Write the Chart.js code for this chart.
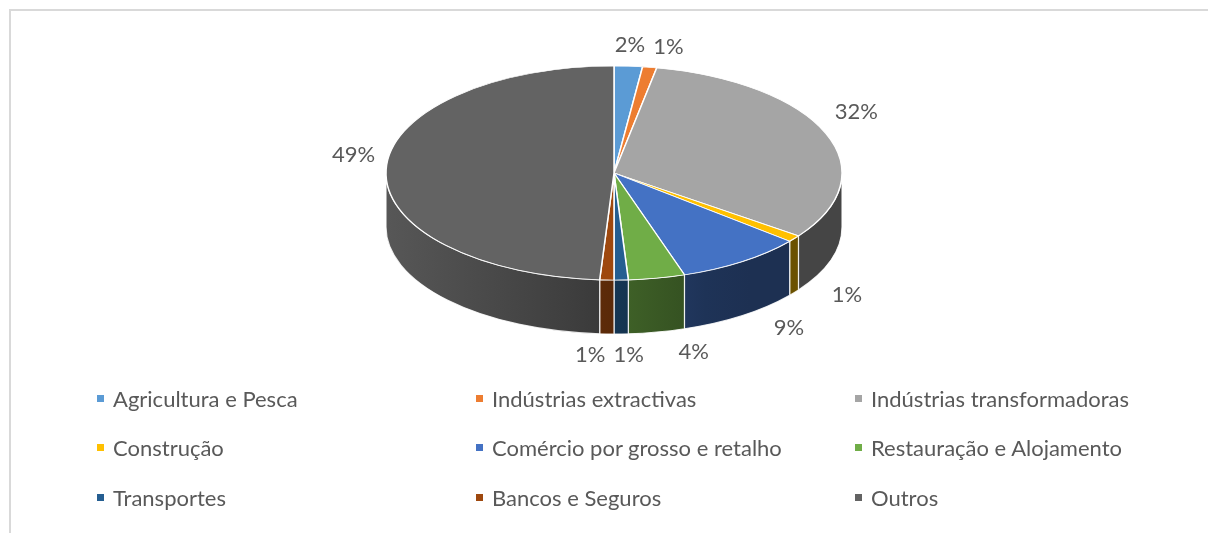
<!DOCTYPE html>
<html>
<head>
<meta charset="utf-8">
<script src="https://cdn.jsdelivr.net/npm/chart.js@4.4.0/dist/chart.umd.min.js"></script>
<style>
    html, body { margin: 0; padding: 0; background: #fff; overflow: hidden; }
    #wrap { position: relative; width: 1208px; height: 533px; overflow: hidden; }
    #frame { position: absolute; left: 9px; top: 9px; width: 1300px; height: 600px; border: 2px solid #d9d9d9; box-sizing: border-box; }
    #sectorChart { position: absolute; left: 0; top: 0; }
    #legend { position: absolute; left: 97px; top: 383px; display: grid; grid-template-columns: 379px 379px 340px; grid-auto-rows: 49.5px; font-family: Lato, sans-serif; font-size: 22px; color: #595959; }
    .item { display: flex; align-items: center; height: 30px; white-space: nowrap; }
    .box { width: 7px; height: 7px; margin-right: 9px; flex: none; }
</style>
</head>
<body>
<div id="wrap">
    <div id="frame"></div>
    <canvas id="sectorChart" width="1208" height="533"></canvas>
    <div id="legend"></div>
</div>
<script>
const sectors = ['Agricultura e Pesca', 'Indústrias extractivas', 'Indústrias transformadoras', 'Construção', 'Comércio por grosso e retalho', 'Restauração e Alojamento', 'Transportes', 'Bancos e Seguros', 'Outros'];
const shares = [2, 1, 32, 1, 9, 4, 1, 1, 49];
const sliceColors = ['#5B9BD5', '#ED7D31', '#A5A5A5', '#FFC000', '#4472C4', '#70AD47', '#255E91', '#9E480E', '#636363'];

const TOP_Y = 173;          // centre of the top face
const SQUASH = 107 / 228;   // vertical squash of the top face
const DEPTH = 54;           // height of the side wall
const GAP = 11;

function shade(hex, f) {
    const n = parseInt(hex.slice(1), 16);
    const r = Math.round(((n >> 16) & 255) * f);
    const g = Math.round(((n >> 8) & 255) * f);
    const b = Math.round((n & 255) * f);
    return 'rgb(' + r + ',' + g + ',' + b + ')';
}

const pie3d = {
    id: 'pie3d',
    beforeDatasetsDraw(chart) {
        const ctx = chart.ctx;
        const arcs = chart.getDatasetMeta(0).data;
        const cx = arcs[0].x, R = arcs[0].outerRadius, ry = R * SQUASH;

        // side walls, only the front half shows
        arcs.forEach((arc, i) => {
            const lo = Math.max(arc.startAngle, 0);
            const hi = Math.min(arc.endAngle, Math.PI);
            if (lo >= hi) return;
            const grad = ctx.createLinearGradient(cx - R, 0, cx + R, 0);
            for (let s = 0; s <= 10; s++) {
                const u = s / 10;
                grad.addColorStop(u, shade(sliceColors[i], Math.max(0.42, 0.88 - 0.62 * u)));
            }
            ctx.beginPath();
            ctx.ellipse(cx, TOP_Y, R, ry, 0, lo, hi);
            ctx.ellipse(cx, TOP_Y + DEPTH, R, ry, 0, hi, lo, true);
            ctx.closePath();
            ctx.fillStyle = grad;
            ctx.fill();
            ctx.strokeStyle = 'rgba(255,255,255,0.85)';
            ctx.lineWidth = 1.2;
            ctx.stroke();
        });

        ctx.save();
        ctx.translate(0, TOP_Y);
        ctx.scale(1, SQUASH);
        ctx.translate(0, -arcs[0].y);
    },
    afterDatasetsDraw(chart) {
        const ctx = chart.ctx;
        ctx.restore();

        const arcs = chart.getDatasetMeta(0).data;
        const cx = arcs[0].x, R = arcs[0].outerRadius, ry = R * SQUASH;
        ctx.save();
        ctx.font = '22px Lato';
        ctx.fillStyle = '#595959';
        ctx.textAlign = 'center';
        ctx.textBaseline = 'middle';
        const placed = [];
        const h = 20;
        arcs.forEach((arc, i) => {
            const a = (arc.startAngle + arc.endAngle) / 2;
            const c = Math.cos(a), s = Math.sin(a);
            const text = shares[i] + '%';
            const w = ctx.measureText(text).width;
            const front = s > 0;
            const px = cx + R * c;
            const py = TOP_Y + ry * s + (front ? DEPTH * (0.5 + 0.5 * s) : 0);
            let x = px + GAP * c + (w / 2) * c;
            let y = py + GAP * s + (h / 2) * s;
            if (front) x += 32 * Math.max(-1, Math.min(1, c / 0.15));
            else if (Math.abs(c) > 0.5) y -= 14;
            placed.forEach(b => {
                if (Math.abs(b.y - y) < h && Math.abs(b.x - x) < (b.w + w) / 2 + 6) {
                    x = c >= 0 ? b.x + (b.w + w) / 2 + 8 : b.x - (b.w + w) / 2 - 8;
                }
            });
            placed.push({ x: x, y: y, w: w });
            ctx.fillText(text, x, y);
        });
        ctx.restore();
    }
};

function drawChart() {
    const canvas = document.getElementById('sectorChart');

    new Chart(canvas, {
        type: 'pie',
        data: {
            labels: sectors,
            datasets: [{
                data: shares,
                backgroundColor: sliceColors,
                borderColor: '#ffffff',
                borderWidth: 1.5,
                radius: 228
            }]
        },
        options: {
            responsive: false,
            animation: false,
            devicePixelRatio: 1,
            layout: { padding: { left: 20 } },
            plugins: {
                legend: { display: false },
                tooltip: { enabled: false }
            }
        },
        plugins: [pie3d]
    });

    const legend = document.getElementById('legend');
    sectors.forEach((name, i) => {
        const item = document.createElement('div');
        item.className = 'item';
        const box = document.createElement('span');
        box.className = 'box';
        box.style.background = sliceColors[i];
        const label = document.createElement('span');
        label.textContent = name;
        item.appendChild(box);
        item.appendChild(label);
        legend.appendChild(item);
    });
}

drawChart();
</script>
</body>
</html>
